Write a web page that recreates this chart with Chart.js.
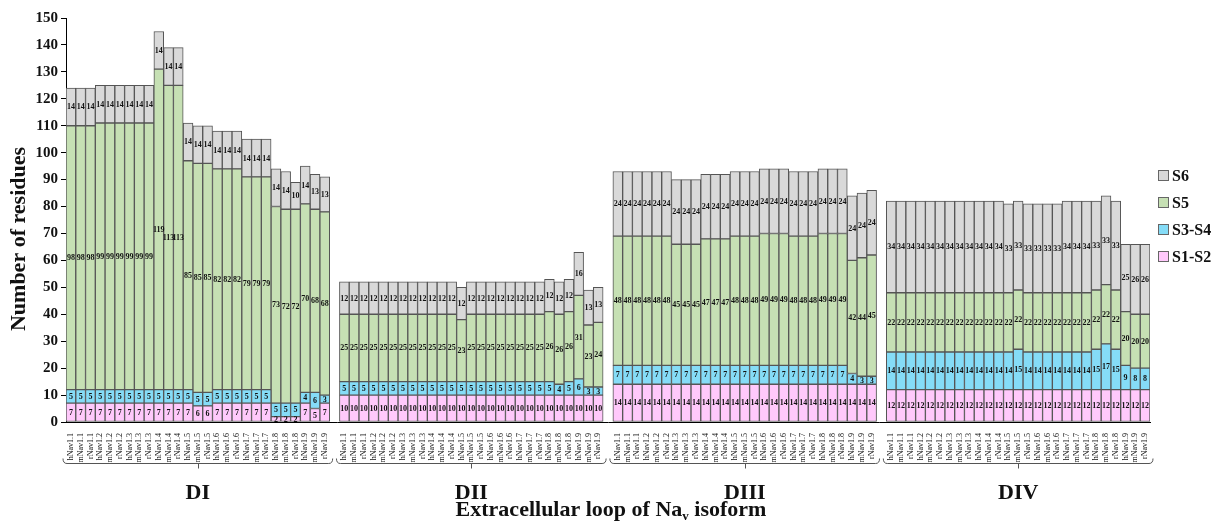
<!DOCTYPE html>
<html>
<head>
<meta charset="utf-8">
<script src="https://cdn.jsdelivr.net/npm/chart.js@4/dist/chart.umd.min.js"></script>
<style>
  html, body { margin: 0; padding: 0; background: #ffffff; }
  #wrap { width: 1214px; height: 521px; }
</style>
</head>
<body>
<div id="wrap"><canvas id="chart" width="1214" height="521"></canvas></div>
<script>
// Isoforms shown inside every domain (human, mouse, rat for Nav1.1 - Nav1.9)
const isoforms = [
  'hNav1.1','mNav1.1','rNav1.1','hNav1.2','mNav1.2','rNav1.2','hNav1.3','mNav1.3','rNav1.3',
  'hNav1.4','mNav1.4','rNav1.4','hNav1.5','mNav1.5','rNav1.5','hNav1.6','mNav1.6','rNav1.6',
  'hNav1.7','mNav1.7','rNav1.7','hNav1.8','mNav1.8','rNav1.8','hNav1.9','mNav1.9','rNav1.9'
];
const domains = ['DI', 'DII', 'DIII', 'DIV'];
const seriesNames = ['S1-S2', 'S3-S4', 'S5', 'S6'];

// Residue counts per extracellular loop, domain I
const s12DI = [7,7,7,7,7,7,7,7,7,7,7,7,7,6,6,7,7,7,7,7,7,2,2,2,7,5,7];
const s34DI = [5,5,5,5,5,5,5,5,5,5,5,5,5,5,5,5,5,5,5,5,5,5,5,5,4,6,3];
const s5DI  = [98,98,98,99,99,99,99,99,99,119,113,113,85,85,85,82,82,82,79,79,79,73,72,72,70,68,68];
const s6DI  = [14,14,14,14,14,14,14,14,14,14,14,14,14,14,14,14,14,14,14,14,14,14,14,10,14,13,13];

// Domain II
const s12DII = [10,10,10,10,10,10,10,10,10,10,10,10,10,10,10,10,10,10,10,10,10,10,10,10,10,10,10];
const s34DII = [5,5,5,5,5,5,5,5,5,5,5,5,5,5,5,5,5,5,5,5,5,5,4,5,6,3,3];
const s5DII  = [25,25,25,25,25,25,25,25,25,25,25,25,23,25,25,25,25,25,25,25,25,26,26,26,31,23,24];
const s6DII  = [12,12,12,12,12,12,12,12,12,12,12,12,12,12,12,12,12,12,12,12,12,12,12,12,16,13,13];

// Domain III
const s12DIII = [14,14,14,14,14,14,14,14,14,14,14,14,14,14,14,14,14,14,14,14,14,14,14,14,14,14,14];
const s34DIII = [7,7,7,7,7,7,7,7,7,7,7,7,7,7,7,7,7,7,7,7,7,7,7,7,4,3,3];
const s5DIII  = [48,48,48,48,48,48,45,45,45,47,47,47,48,48,48,49,49,49,48,48,48,49,49,49,42,44,45];
const s6DIII  = [24,24,24,24,24,24,24,24,24,24,24,24,24,24,24,24,24,24,24,24,24,24,24,24,24,24,24];

// Domain IV
const s12DIV = [12,12,12,12,12,12,12,12,12,12,12,12,12,12,12,12,12,12,12,12,12,12,12,12,12,12,12];
const s34DIV = [14,14,14,14,14,14,14,14,14,14,14,14,14,15,14,14,14,14,14,14,14,15,17,15,9,8,8];
const s5DIV  = [22,22,22,22,22,22,22,22,22,22,22,22,22,22,22,22,22,22,22,22,22,22,22,22,20,20,20];
const s6DIV  = [34,34,34,34,34,34,34,34,34,34,34,34,33,33,33,33,33,33,34,34,34,33,33,33,25,26,26];

const yTicks = [0,10,20,30,40,50,60,70,80,90,100,110,120,130,140,150];

const colors = {
  'S1-S2': '#ffc9fb',
  'S3-S4': '#85dcf7',
  'S5':    '#c6e0b4',
  'S6':    '#d9d9d9'
};

// One empty slot separates consecutive domains on the category axis
function joinDomains(parts, filler) {
  const out = [];
  parts.forEach((p, i) => { if (i > 0) out.push(filler); out.push(...p); });
  return out;
}

const labels = joinDomains(domains.map(() => isoforms), '');
const seriesData = {
  'S1-S2': joinDomains([s12DI, s12DII, s12DIII, s12DIV], null),
  'S3-S4': joinDomains([s34DI, s34DII, s34DIII, s34DIV], null),
  'S5':    joinDomains([s5DI, s5DII, s5DIII, s5DIV], null),
  'S6':    joinDomains([s6DI, s6DII, s6DIII, s6DIV], null)
};

const SERIF = '"Liberation Serif", "DejaVu Serif", serif';

// Writes each segment's residue count in the middle of the segment
const segmentValues = {
  id: 'segmentValues',
  afterDatasetsDraw(chart) {
    const ctx = chart.ctx;
    ctx.save();
    ctx.font = 'bold 8px ' + SERIF;
    ctx.fillStyle = '#111';
    ctx.textAlign = 'center';
    ctx.textBaseline = 'middle';
    chart.data.datasets.forEach((ds, di) => {
      const meta = chart.getDatasetMeta(di);
      meta.data.forEach((el, i) => {
        const v = ds.data[i];
        if (v === null || v === undefined) return;
        ctx.fillText(String(v), el.x, (el.y + el.base) / 2 + 0.5);
      });
    });
    ctx.restore();
  }
};

// Braces under each domain, domain names, axis captions and the legend
const domainDecor = {
  id: 'domainDecor',
  afterDraw(chart) {
    const ctx = chart.ctx;
    const xs = chart.scales.x;
    const step = xs.width / labels.length;
    ctx.save();
    domains.forEach((name, d) => {
      const first = d * (isoforms.length + 1);
      const last = first + isoforms.length - 1;
      const x0 = xs.getPixelForValue(first) - step / 2 - 3;
      const x1 = xs.getPixelForValue(last) + step / 2 + 3;
      const xc = (x0 + x1) / 2;
      const yl = 463.5;
      ctx.strokeStyle = '#555';
      ctx.lineWidth = 1;
      ctx.beginPath();
      ctx.moveTo(x0, yl - 5);
      ctx.quadraticCurveTo(x0, yl, x0 + 4, yl);
      ctx.lineTo(x1 - 4, yl);
      ctx.quadraticCurveTo(x1, yl, x1, yl - 5);
      ctx.moveTo(Math.round(xc) + 0.5, yl);
      ctx.lineTo(Math.round(xc) + 0.5, yl + 5);
      ctx.stroke();

      ctx.fillStyle = '#111';
      ctx.font = 'bold 22px ' + SERIF;
      ctx.textAlign = 'center';
      ctx.textBaseline = 'middle';
      ctx.fillText(name, xc, 493);
    });

    // Vertical axis caption
    ctx.save();
    ctx.translate(19, 239);
    ctx.rotate(-Math.PI / 2);
    ctx.font = 'bold 22px ' + SERIF;
    ctx.fillStyle = '#111';
    ctx.textAlign = 'center';
    ctx.textBaseline = 'middle';
    ctx.fillText('Number of residues', 0, 0);
    ctx.restore();

    // Horizontal axis caption with subscript v in "Nav"
    const mainFont = 'bold 22px ' + SERIF;
    const subFont = 'bold 13px ' + SERIF;
    const partA = 'Extracellular loop of Na';
    const partSub = 'v';
    const partB = ' isoform';
    ctx.font = mainFont;
    const wA = ctx.measureText(partA).width;
    const wB = ctx.measureText(partB).width;
    ctx.font = subFont;
    const wS = ctx.measureText(partSub).width;
    const total = wA + wS + wB;
    let x = 611 - total / 2;
    const yBase = 516;
    ctx.textAlign = 'left';
    ctx.textBaseline = 'alphabetic';
    ctx.fillStyle = '#111';
    ctx.font = mainFont;
    ctx.fillText(partA, x, yBase);
    x += wA;
    ctx.font = subFont;
    ctx.fillText(partSub, x, yBase + 4);
    x += wS;
    ctx.font = mainFont;
    ctx.fillText(partB, x, yBase);

    // Legend, top entry is the top segment
    const order = ['S6', 'S5', 'S3-S4', 'S1-S2'];
    ctx.font = 'bold 16px ' + SERIF;
    ctx.textBaseline = 'middle';
    order.forEach((name, i) => {
      const cy = 176 + i * 27;
      ctx.fillStyle = colors[name];
      ctx.fillRect(1158.5, cy - 5.5, 10, 10);
      ctx.strokeStyle = '#666';
      ctx.lineWidth = 1;
      ctx.strokeRect(1158.5, cy - 5.5, 10, 10);
      ctx.fillStyle = '#111';
      ctx.fillText(name, 1172, cy + 1);
    });
    ctx.restore();
  }
};

const datasets = seriesNames.map(name => ({
  label: name,
  data: seriesData[name],
  backgroundColor: colors[name],
  borderColor: '#555',
  borderWidth: 1,
  borderSkipped: false,
  barPercentage: 1,
  categoryPercentage: 1
}));

new Chart(document.getElementById('chart'), {
  type: 'bar',
  data: { labels, datasets },
  options: {
    responsive: false,
    devicePixelRatio: 1,
    animation: false,
    layout: { padding: { left: 0, right: 64, top: 18, bottom: 0 } },
    plugins: {
      legend: { display: false },
      tooltip: { enabled: false }
    },
    scales: {
      x: {
        stacked: true,
        grid: { display: false },
        border: { display: true, color: '#000', width: 1 },
        ticks: {
          autoSkip: false,
          maxRotation: 90,
          minRotation: 90,
          padding: 3,
          color: '#111',
          font: { family: SERIF, size: 8 }
        },
        afterFit(scale) { scale.height = 99; }
      },
      y: {
        stacked: true,
        min: 0,
        max: 150,
        afterBuildTicks(scale) { scale.ticks = yTicks.map(v => ({ value: v })); },
        grid: { drawOnChartArea: false, drawTicks: true, tickLength: 5, color: '#000' },
        border: { display: true, color: '#000', width: 1 },
        ticks: {
          padding: 3,
          color: '#111',
          font: { family: SERIF, size: 15, weight: 'bold' }
        },
        afterFit(scale) { scale.width = 66; }
      }
    }
  },
  plugins: [segmentValues, domainDecor]
});
</script>
</body>
</html>
